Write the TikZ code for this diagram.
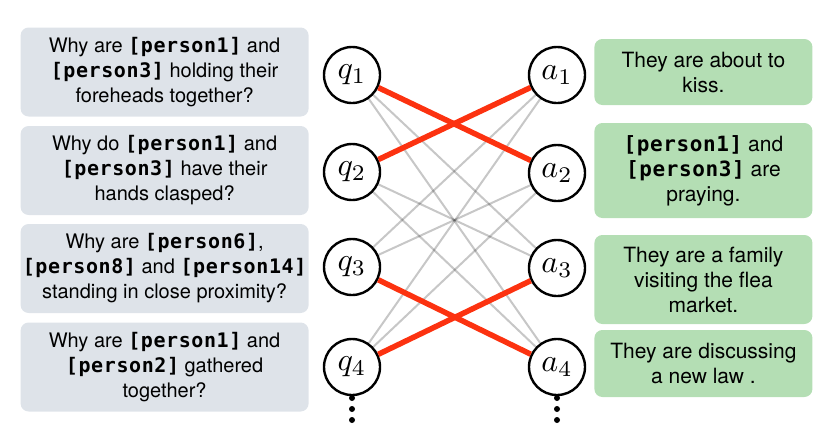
\documentclass[tikz,border=0pt]{standalone}
\usepackage{graphicx}
\usepackage{fontspec}
\setmainfont{TeX Gyre Heros}
\newfontfamily\persfont[LetterSpace=3]{DejaVu Sans Mono Bold}
\usepackage{tikz}
\usetikzlibrary{positioning}

\definecolor{qfill}{RGB}{222,227,233}
\definecolor{afill}{RGB}{180,222,180}
\definecolor{matchred}{RGB}{252,50,16}
\newcommand{\pers}[1]{{\persfont[#1]}}
\newcommand{\vlab}[2]{\scalebox{3.2}{$#1_{#2}$}}

\begin{document}
\begin{tikzpicture}[
    x=1pt, y=-1pt,
    qbox/.style={rectangle, rounded corners=8pt, fill=qfill, minimum width=288pt, minimum height=89pt, inner xsep=1pt, align=center, font=\fontsize{20}{25}\selectfont},
    abox/.style={rectangle, rounded corners=8pt, fill=afill, minimum width=218pt, align=center, font=\fontsize{21}{25}\selectfont},
    vert/.style={circle, draw, fill=white, line width=2.4pt, minimum size=56pt, inner sep=0pt},
    correct/.style={matchred, line width=5.5pt},
    wrong/.style={black, opacity=0.22, line width=2pt}
]
    \useasboundingbox (0,0) rectangle (818,437);

    % Question and answer vertices
    \node[vert] (q1) at (352,75) {\vlab{q}{1}};
    \node[vert] (q2) at (352,172) {\vlab{q}{2}};
    \node[vert] (q3) at (352,267) {\vlab{q}{3}};
    \node[vert] (q4) at (352,367) {\vlab{q}{4}};
    \node[vert] (a1) at (557,75) {\vlab{a}{1}};
    \node[vert] (a2) at (557,173) {\vlab{a}{2}};
    \node[vert] (a3) at (557,268) {\vlab{a}{3}};
    \node[vert] (a4) at (557,367) {\vlab{a}{4}};

    % Questions
    \node[qbox, left=14pt of q1, yshift=3pt] (qb1) {Why are \pers{person1} and\\ \pers{person3} holding their\\ foreheads together?};
    \node[qbox, left=14pt of q2, yshift=1.5pt] (qb2) {Why do \pers{person1} and\\ \pers{person3} have their\\ hands clasped?};
    \node[qbox, left=14pt of q3, yshift=-1.5pt] (qb3) {Why are \pers{person6},\\ \pers{person8} and \pers{person14}\\ standing in close proximity?};
    \node[qbox, left=14pt of q4] (qb4) {Why are \pers{person1} and\\ \pers{person2} gathered\\ together?};

    % Answers
    \node[abox, right=8pt of a1, yshift=3pt, minimum height=66pt] (ab1) {They are about to\\ kiss.};
    \node[abox, right=8pt of a2, yshift=2.5pt, minimum height=95pt] (ab2) {\pers{person1} and\\ \pers{person3} are\\ praying.};
    \node[abox, right=8pt of a3, yshift=-11.5pt, minimum height=89pt] (ab3) {They are a family\\ visiting the flea\\ market.};
    \node[abox, right=8pt of a4, yshift=3.5pt, minimum height=67pt] (ab4) {They are discussing\\ a new law .};

    % Edges
    \foreach \i/\j in {1/3,1/4,2/3,2/4,3/1,3/2,4/1,4/2}
        \draw[wrong] (q\i) -- (a\j);
    \draw[correct] (q1) -- (a2);
    \draw[correct] (q2) -- (a1);
    \draw[correct] (q3) -- (a4);
    \draw[correct] (q4) -- (a3);

    % More below
    \foreach \n in {q4,a4}
        \foreach \d in {31,42,53}
            \fill ([yshift=-\d pt]\n.center) circle (3);
\end{tikzpicture}
\end{document}
